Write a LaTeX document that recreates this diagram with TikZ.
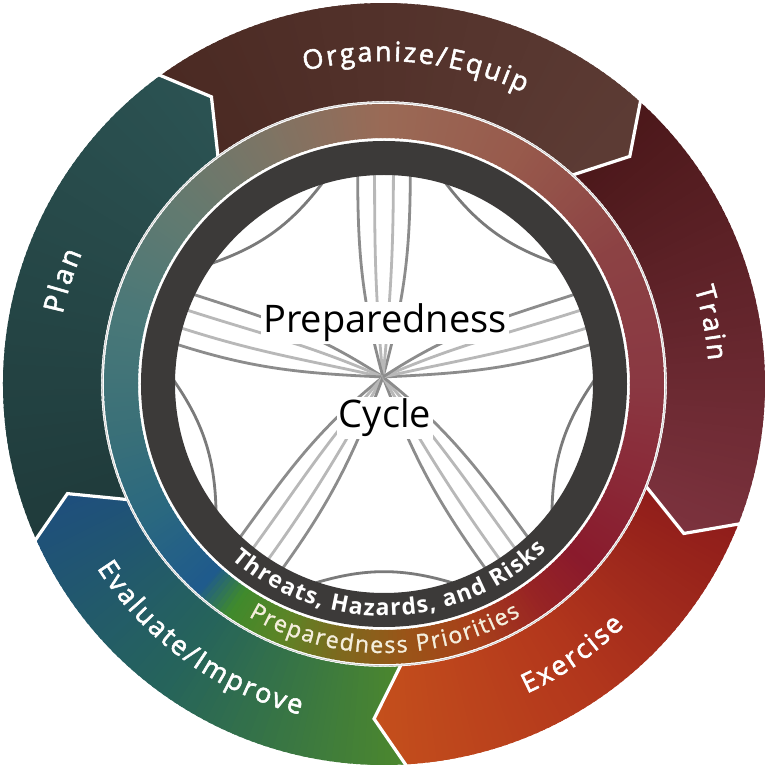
\documentclass[tikz,border=0pt]{standalone}
\usepackage{fontspec}
\setmainfont{Open Sans}
\newfontfamily\lblfont[FakeBold=2]{Open Sans}
\newfontfamily\inrfont{Open Sans}
\newfontfamily\priofont[FakeBold=1.2]{Open Sans}
\usetikzlibrary{decorations.text}

\definecolor{orgA}{HTML}{4A2922}\definecolor{orgB}{HTML}{5E3D36}
\definecolor{trnA}{HTML}{4A1719}\definecolor{trnB}{HTML}{7F3440}
\definecolor{exA}{HTML}{8C1B1B}\definecolor{exB}{HTML}{B2361C}\definecolor{exC}{HTML}{C6521C}
\definecolor{evA}{HTML}{4E8A2A}\definecolor{evB}{HTML}{26645A}\definecolor{evC}{HTML}{1D4C82}
\definecolor{plA}{HTML}{1F3A3A}\definecolor{plB}{HTML}{2C5454}
\definecolor{gA}{HTML}{1F5A8C}\definecolor{gB}{HTML}{3F8A2C}\definecolor{gC}{HTML}{5D8426}
\definecolor{gD}{HTML}{7C6A1E}\definecolor{gE}{HTML}{9A5418}\definecolor{gF}{HTML}{A8401A}
\definecolor{gG}{HTML}{982424}\definecolor{gH}{HTML}{8A1A2C}\definecolor{gI}{HTML}{8A2A38}
\definecolor{gJ}{HTML}{8A3842}\definecolor{gK}{HTML}{8C4244}\definecolor{gL}{HTML}{985A4C}
\definecolor{gM}{HTML}{9A6A56}\definecolor{gN}{HTML}{7E7464}\definecolor{gO}{HTML}{627A70}
\definecolor{gP}{HTML}{4A7878}\definecolor{gQ}{HTML}{3A7078}\definecolor{gR}{HTML}{2A6880}
\definecolor{darkring}{HTML}{3C3A39}
\definecolor{prio}{HTML}{F4EEDC}

% annular angular gradient: #1 inner radius, #2 outer radius, #3 list angA/angB/colA/colB
\newcommand\ringgrad[3]{%
  \foreach \angA/\angB/\colA/\colB in {#3}{%
    \pgfmathtruncatemacro\nsteps{round(abs(\angB-\angA))}%
    \foreach \kk in {1,...,\nsteps}{%
      \pgfmathsetmacro\tA{\angA+(\angB-\angA)*(\kk-1)/\nsteps}%
      \pgfmathsetmacro\tB{\angA+(\angB-\angA)*(\kk+0.5)/\nsteps}%
      \pgfmathtruncatemacro\pp{100*(\kk-0.5)/\nsteps}%
      \colorlet{wc}{\colB!\pp!\colA}%
      \fill[wc] (\tA:#1) arc[start angle=\tA, end angle=\tB, radius=#1]
        -- (\tB:#2) arc[start angle=\tB, end angle=\tA, radius=#2] -- cycle;
    }%
  }%
}

\tikzset{
  spkA/.style={draw=black!45, line width=2.8},
  spkB/.style={draw=black!28, line width=2.8},
  arcsty/.style={draw=black!52, line width=2.8},
  segline/.style={draw=white, line width=3.2, line join=miter},
  outlbl/.style={decorate, decoration={text along path, text align=center, text color=white}},
  centerlbl/.style={fill=white, inner sep=2, text=black, font=\fontsize{38}{40}\selectfont}
}

\begin{document}
\begin{tikzpicture}[x=1pt, y=1pt]
\fill[white] (-384,-384) rectangle (384,384);
\useasboundingbox (-384,-384) rectangle (384,384);

% ---- outer segments ----
\begin{scope}
\clip (126.2:381) arc[start angle=126.2, end angle=48, radius=381] -- (42.8:335)
  -- (48:283) arc[start angle=48, end angle=126.2, radius=283] -- (121:335) -- cycle;
\ringgrad{278}{386}{130/38/orgA/orgB}
\end{scope}
\begin{scope}
\clip (48:381) arc[start angle=48, end angle=-21.3, radius=381] -- (-26.5:335)
  -- (-21.3:283) arc[start angle=-21.3, end angle=48, radius=283] -- (42.8:335) -- cycle;
\ringgrad{278}{386}{50/-30/trnA/trnB}
\end{scope}
\begin{scope}
\clip (-21.3:381) arc[start angle=-21.3, end angle=-86.5, radius=381] -- (-91.7:335)
  -- (-86.5:283) arc[start angle=-86.5, end angle=-21.3, radius=283] -- (-26.5:335) -- cycle;
\ringgrad{278}{386}{-19/-55/exA/exB, -55/-95/exB/exC}
\end{scope}
\begin{scope}
\clip (-86.5:381) arc[start angle=-86.5, end angle=-155.7, radius=381] -- (-160.9:335)
  -- (-155.7:283) arc[start angle=-155.7, end angle=-86.5, radius=283] -- (-91.7:335) -- cycle;
\ringgrad{278}{386}{-84/-125/evA/evB, -125/-165/evB/evC}
\end{scope}
\begin{scope}
\clip (204.3:381) arc[start angle=204.3, end angle=126.2, radius=381] -- (121:335)
  -- (126.2:283) arc[start angle=126.2, end angle=204.3, radius=283] -- (199.1:335) -- cycle;
\ringgrad{278}{386}{207/117/plA/plB}
\end{scope}
\foreach \bnd/\tip in {126.2/121, 48/42.8, -21.3/-26.5, -86.5/-91.7, 204.3/199.1}{
  \draw[segline] (\bnd:384) -- (\tip:335) -- (\bnd:281);
}

% ---- gradient ring ----
\ringgrad{246}{280}{-132/-124/gA/gB, -124/-112/gB/gC, -112/-100/gC/gD, -100/-85/gD/gE,
  -85/-70/gE/gF, -70/-55/gF/gG, -55/-42/gG/gH, -42/-20/gH/gI, -20/0/gI/gJ, 0/30/gJ/gK,
  30/60/gK/gL, 60/90/gL/gM, 90/115/gM/gN, 115/140/gN/gO, 140/165/gO/gP, 165/190/gP/gQ,
  190/210/gQ/gR, 210/228/gR/gA}
\draw[black!25, line width=0.6] (0,0) circle[radius=281.6];

% ---- centre pattern ----
\coordinate (P0) at (-1,7);
\foreach \th in {90,162,234,306,18}{
  \foreach \dd/\sty in {-7/spkA, -2.5/spkB, 2.5/spkB, 7/spkA}{
    \pgfmathsetmacro\endang{\th+\dd}
    \pgfmathsetmacro\outang{\th+2.2*\dd}
    \pgfmathsetmacro\inang{\th+180}
    \draw[\sty] (P0) to[out=\outang, in=\inang] (\endang:216);
  }
  \pgfmathsetmacro\arcA{\th+15}
  \pgfmathsetmacro\arcB{\th+57}
  \draw[arcsty] (\arcA:216) to[bend left=18] (\arcB:216);
}

% ---- dark ring ----
\fill[darkring, even odd rule] (0,0) circle[radius=243] (0,0) circle[radius=209];

% ---- centre text ----
\node[centerlbl, anchor=base] (prep) at (1,51) {Preparedness};
\node[centerlbl, anchor=base] (cyc) at (1,-44) {Cycle};

% ---- outer labels ----
\path[outlbl, decoration={text={|\lblfont\fontsize{27}{27}\selectfont\kern2.3pt|Organize/Equip}}]
  (124.5:323) arc[start angle=124.5, end angle=44.5, radius=323];
\path[outlbl, decoration={text={|\lblfont\fontsize{27}{27}\selectfont\kern2.3pt|Train}}]
  (40.8:325) arc[start angle=40.8, end angle=-19.2, radius=325];
\path[outlbl, decoration={text={|\lblfont\fontsize{28}{28}\selectfont\kern2.5pt|Plan}}]
  (192.4:329) arc[start angle=192.4, end angle=132.4, radius=329];
\path[outlbl, decoration={text={|\lblfont\fontsize{27}{27}\selectfont\kern2.3pt|Evaluate/Improve}}]
  (-166:341) arc[start angle=-166, end angle=-86, radius=341];
\path[outlbl, decoration={text={|\lblfont\fontsize{27}{27}\selectfont\kern2.3pt|Exercise}}]
  (-85.4:341) arc[start angle=-85.4, end angle=-25.4, radius=341];

% ---- inner ring labels ----
\path[outlbl, decoration={text={|\inrfont\bfseries\fontsize{23}{23}\selectfont\kern1.2pt|Threats, Hazards, and Risks}}]
  (-142:232) arc[start angle=-142, end angle=-34.8, radius=232];
\path[decorate, decoration={text along path, text align=center, text color=prio,
  text={|\priofont\fontsize{23}{23}\selectfont\kern1.6pt|Preparedness Priorities}}]
  (-140:269) arc[start angle=-140, end angle=-40, radius=269];
\end{tikzpicture}
\end{document}
